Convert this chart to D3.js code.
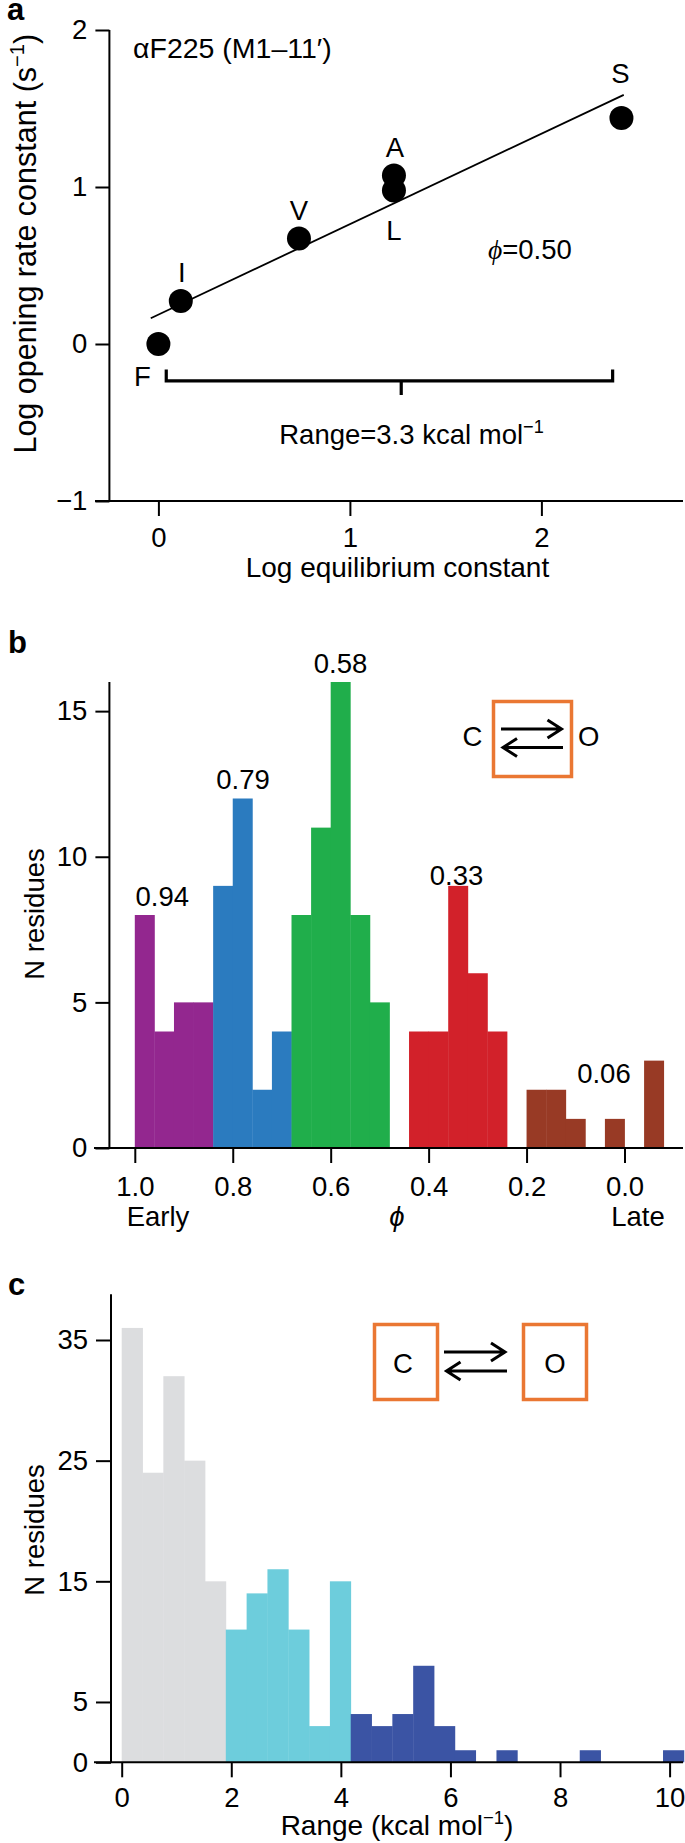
<!DOCTYPE html>
<html><head><meta charset="utf-8">
<script src="https://cdn.jsdelivr.net/npm/d3@7"></script>
<style>
html,body{margin:0;padding:0;background:#fff;}
svg{display:block;}
text{font-family:"Liberation Sans",Arial,Helvetica,sans-serif;fill:#000;}
</style></head><body>
<svg id="fig" width="685" height="1843"></svg>
<script>
// ---------- Panel a data ----------
const aMutants = ["F", "I", "V", "A", "L", "S"];
const aLogKeq  = [0, 0.117, 0.734, 1.23, 1.23, 2.418];
const aLogOpen = [0, 0.274, 0.672, 1.073, 0.978, 1.44];
const aFitX = [-0.04, 2.43];
const aFitY = [0.164, 1.587];
const aXTicks = [0, 1, 2];
const aYTicks = [-1, 0, 1, 2];
const aTitle = "\u03b1F225 (M1\u201311\u2032)";
const aPhi = "=0.50";
const aRange = "Range=3.3 kcal mol";
const aBracketX = [0.041, 2.372];
const aBracketMid = 1.268;
const aBracketY = -0.235;

// ---------- Panel b data ----------
const bBinStart = 1.0;
const bBinWidth = 0.04;
const bCounts = [8, 4, 5, 5, 9, 12, 2, 4, 8, 11, 16, 8, 5, 0, 4, 4, 9, 6, 4, 0, 2, 2, 1, 0, 1, 0, 3];
const bGroup  = [0, 0, 0, 0, 1, 1, 1, 1, 2, 2, 2, 2, 2, 2, 3, 3, 3, 3, 3, 3, 4, 4, 4, 4, 4, 4, 4];
const bGroupLabels = ["0.94", "0.79", "0.58", "0.33", "0.06"];
const bLabelPhi   = [0.944, 0.779, 0.58, 0.343, 0.042];
const bLabelCount = [8.64, 12.67, 16.66, 9.38, 2.57];
const bXTicks = [1.0, 0.8, 0.6, 0.4, 0.2, 0.0];
const bYTicks = [0, 5, 10, 15];

// ---------- Panel c data ----------
const cBinStart = 0;
const cBinWidth = 0.38;
const cCounts = [36, 24, 32, 25, 15, 11, 14, 16, 11, 3, 15, 4, 3, 4, 8, 3, 1, 0, 1, 0, 0, 0, 1, 0, 0, 0, 1];
const cGroup  = [0, 0, 0, 0, 0, 1, 1, 1, 1, 1, 1, 2, 2, 2, 2, 2, 2, 2, 2, 2, 2, 2, 2, 2, 2, 2, 2];
const cXTicks = [0, 2, 4, 6, 8, 10];
const cYTicks = [0, 5, 15, 25, 35];

// ---------- styles ----------
const FS = 27.5;
const FONT = '"Liberation Sans",Arial,Helvetica,sans-serif';
const SERIF = '"Liberation Serif","DejaVu Serif",serif';
const bColors = ["#93278f", "#2b7bbf", "#20ae4b", "#d2212a", "#983a25"];
const cColors = ["#dcdddf", "#6dcddc", "#3b54a4"];
const ORANGE = "#ea7733";
const AX = 2;

const svg = d3.select("#fig");
const minus = d => (d < 0 ? "\u2212" + Math.abs(d) : String(d));

function styleAxis(g) {
  g.attr("font-size", FS).attr("font-family", FONT);
  g.select(".domain").remove();
  g.selectAll(".tick line").attr("stroke", "#000").attr("stroke-width", AX);
  g.selectAll(".tick text").attr("fill", "#000");
}
function panelLetter(ch, x, y) {
  svg.append("text").attr("x", x).attr("y", y).attr("font-size", 31)
    .attr("font-weight", "bold").text(ch);
}
function hline(g, x1, x2, y, w) {
  g.append("line").attr("x1", x1).attr("x2", x2).attr("y1", y).attr("y2", y)
    .attr("stroke", "#000").attr("stroke-width", w || AX);
}
function vline(g, x, y1, y2, w) {
  g.append("line").attr("x1", x).attr("x2", x).attr("y1", y1).attr("y2", y2)
    .attr("stroke", "#000").attr("stroke-width", w || AX);
}
function supLabel(sel, main, sup, after, fs) {
  const f = fs || FS;
  sel.append("tspan").text(main);
  sel.append("tspan").attr("dy", -0.38 * f).attr("font-size", f * 0.66).text(sup);
  if (after) sel.append("tspan").attr("dy", 0.38 * f).text(after);
}
function arrow(g, xFrom, xTo, y) {
  const dir = xTo > xFrom ? 1 : -1;
  g.append("path")
    .attr("d", `M${xFrom},${y}H${xTo}M${xTo - dir * 14},${y - 9}L${xTo},${y}L${xTo - dir * 14},${y + 9}`)
    .attr("fill", "none").attr("stroke", "#000").attr("stroke-width", 3)
    .attr("stroke-linejoin", "miter");
}

// =================== Panel a ===================
{
  const x = d3.scaleLinear().domain([0, 2]).range([158.4, 541.4]);
  const y = d3.scaleLinear().domain([-1, 2]).range([501, 30]);
  const g = svg.append("g");
  const yAxX = 109.4;

  vline(g, yAxX, y(2), y(-1));
  hline(g, 95, 683, y(-1));
  g.append("g").attr("transform", `translate(${yAxX},0)`)
    .call(d3.axisLeft(y).tickValues(aYTicks).tickSize(14).tickPadding(8).tickFormat(minus))
    .call(styleAxis);
  g.append("g").attr("transform", `translate(0,${y(-1)})`)
    .call(d3.axisBottom(x).tickValues(aXTicks).tickSize(15).tickPadding(11).tickFormat(minus))
    .call(styleAxis);

  // fit line
  g.append("line").attr("x1", x(aFitX[0])).attr("y1", y(aFitY[0]))
    .attr("x2", x(aFitX[1])).attr("y2", y(aFitY[1]))
    .attr("stroke", "#000").attr("stroke-width", 1.8);

  // points
  g.selectAll("circle.pt").data(aMutants).join("circle").attr("class", "pt")
    .attr("cx", (d, i) => x(aLogKeq[i])).attr("cy", (d, i) => y(aLogOpen[i]))
    .attr("r", 12).attr("fill", "#000");

  const off = { F: [-16, 32], I: [1, -29], V: [0, -28], A: [1, -28], L: [0, 40], S: [-1, -45] };
  g.selectAll("text.lab").data(aMutants).join("text").attr("class", "lab")
    .attr("x", (d, i) => x(aLogKeq[i]) + off[d][0])
    .attr("y", (d, i) => y(aLogOpen[i]) + off[d][1])
    .attr("dy", "0.36em").attr("text-anchor", "middle").attr("font-size", FS).text(d => d);

  // title
  g.append("text").attr("x", 133).attr("y", 58).attr("font-size", 28.5).text(aTitle);
  // phi
  const tp = g.append("text").attr("x", 488).attr("y", 259).attr("font-size", FS);
  tp.append("tspan").attr("font-style", "italic").attr("font-family", SERIF).text("\u03d5");
  tp.append("tspan").text(aPhi);

  // bracket
  const by = y(aBracketY), byUp = y(aBracketY + 0.073), byDn = y(aBracketY - 0.09);
  g.append("path")
    .attr("d", `M${x(aBracketX[0])},${byUp}V${by}H${x(aBracketX[1])}V${byUp}M${x(aBracketMid)},${by}V${byDn}`)
    .attr("fill", "none").attr("stroke", "#000").attr("stroke-width", 3.2);
  const tr = g.append("text").attr("x", 411.5).attr("y", 443.6).attr("text-anchor", "middle").attr("font-size", FS);
  supLabel(tr, aRange, "\u22121");

  // axis titles
  g.append("text").attr("x", 397.4).attr("y", 577).attr("text-anchor", "middle")
    .attr("font-size", 28).text("Log equilibrium constant");
  const ty = g.append("text").attr("transform", "translate(36,243.7) rotate(-90)")
    .attr("text-anchor", "middle").attr("font-size", 30.5);
  supLabel(ty, "Log opening rate constant (s", "\u22121", ")", 30.5);
}
panelLetter("a", 7, 20);

// =================== Panel b ===================
{
  const x = d3.scaleLinear().domain([1, 0]).range([134.8, 624.5]);
  const y = d3.scaleLinear().domain([0, 16]).range([1148, 682]);
  const g = svg.append("g");
  const yAxX = 109.4;

  g.selectAll("rect.bar").data(bCounts).join("rect").attr("class", "bar")
    .attr("x", (d, i) => x(bBinStart - i * bBinWidth))
    .attr("width", (d, i) => x(bBinStart - (i + 1) * bBinWidth) - x(bBinStart - i * bBinWidth) + 0.4)
    .attr("y", d => y(d)).attr("height", d => y(0) - y(d))
    .attr("fill", (d, i) => bColors[bGroup[i]]);

  vline(g, yAxX, y(16), y(0));
  hline(g, 94, 683, y(0));
  g.append("g").attr("transform", `translate(${yAxX},0)`)
    .call(d3.axisLeft(y).tickValues(bYTicks).tickSize(14).tickPadding(8))
    .call(styleAxis);
  g.append("g").attr("transform", `translate(0,${y(0)})`)
    .call(d3.axisBottom(x).tickValues(bXTicks).tickSize(15).tickPadding(13).tickFormat(d3.format(".1f")))
    .call(styleAxis);

  g.selectAll("text.val").data(bGroupLabels).join("text").attr("class", "val")
    .attr("x", (d, i) => x(bLabelPhi[i])).attr("y", (d, i) => y(bLabelCount[i]))
    .attr("dy", "0.36em").attr("text-anchor", "middle").attr("font-size", FS).text(d => d);

  g.append("text").attr("x", 158).attr("y", 1226).attr("text-anchor", "middle").attr("font-size", FS).text("Early");
  g.append("text").attr("x", 638).attr("y", 1226).attr("text-anchor", "middle").attr("font-size", FS).text("Late");
  g.append("text").attr("x", 397).attr("y", 1226).attr("text-anchor", "middle").attr("font-size", FS)
    .attr("font-style", "italic").attr("font-family", SERIF).text("\u03d5");

  g.append("text").attr("transform", "translate(43.5,914) rotate(-90)")
    .attr("text-anchor", "middle").attr("font-size", FS).text("N residues");

  // inset
  g.append("rect").attr("x", 493.5).attr("y", 701.5).attr("width", 78).attr("height", 75)
    .attr("fill", "none").attr("stroke", ORANGE).attr("stroke-width", 3.5);
  arrow(g, 501, 561.5, 729);
  arrow(g, 563, 503, 747.5);
  g.append("text").attr("x", 472.5).attr("y", 736).attr("dy", "0.36em").attr("text-anchor", "middle").attr("font-size", FS).text("C");
  g.append("text").attr("x", 588.6).attr("y", 736).attr("dy", "0.36em").attr("text-anchor", "middle").attr("font-size", FS).text("O");
}
panelLetter("b", 8, 653);

// =================== Panel c ===================
{
  const x = d3.scaleLinear().domain([0, 10]).range([121.7, 669.6]);
  const y = d3.scaleLinear().domain([0, 35]).range([1762.3, 1340]);
  const g = svg.append("g");
  const yAxX = 111;

  g.selectAll("rect.bar").data(cCounts).join("rect").attr("class", "bar")
    .attr("x", (d, i) => x(cBinStart + i * cBinWidth))
    .attr("width", (d, i) => x(cBinStart + (i + 1) * cBinWidth) - x(cBinStart + i * cBinWidth) + 0.4)
    .attr("y", d => y(d)).attr("height", d => y(0) - y(d))
    .attr("fill", (d, i) => cColors[cGroup[i]]);

  vline(g, yAxX, y(38.8), y(0));
  hline(g, 94, 683, y(0));
  g.append("g").attr("transform", `translate(${yAxX},0)`)
    .call(d3.axisLeft(y).tickValues(cYTicks).tickSize(15).tickPadding(8))
    .call(styleAxis);
  g.append("g").attr("transform", `translate(0,${y(0)})`)
    .call(d3.axisBottom(x).tickValues(cXTicks).tickSize(15).tickPadding(10))
    .call(styleAxis);

  const tx = g.append("text").attr("x", 397).attr("y", 1835).attr("text-anchor", "middle").attr("font-size", 28);
  supLabel(tx, "Range (kcal mol", "\u22121", ")", 28);
  g.append("text").attr("transform", "translate(43.5,1530) rotate(-90)")
    .attr("text-anchor", "middle").attr("font-size", FS).text("N residues");

  // inset
  g.append("rect").attr("x", 374.5).attr("y", 1324.5).attr("width", 63).attr("height", 75)
    .attr("fill", "none").attr("stroke", ORANGE).attr("stroke-width", 3.5);
  g.append("rect").attr("x", 523.5).attr("y", 1324.5).attr("width", 63).attr("height", 75)
    .attr("fill", "none").attr("stroke", ORANGE).attr("stroke-width", 3.5);
  arrow(g, 444, 505, 1352);
  arrow(g, 507, 446.5, 1371);
  g.append("text").attr("x", 403).attr("y", 1363).attr("dy", "0.36em").attr("text-anchor", "middle").attr("font-size", FS).text("C");
  g.append("text").attr("x", 555).attr("y", 1363).attr("dy", "0.36em").attr("text-anchor", "middle").attr("font-size", FS).text("O");
}
panelLetter("c", 8, 1295);
</script>
</body></html>
